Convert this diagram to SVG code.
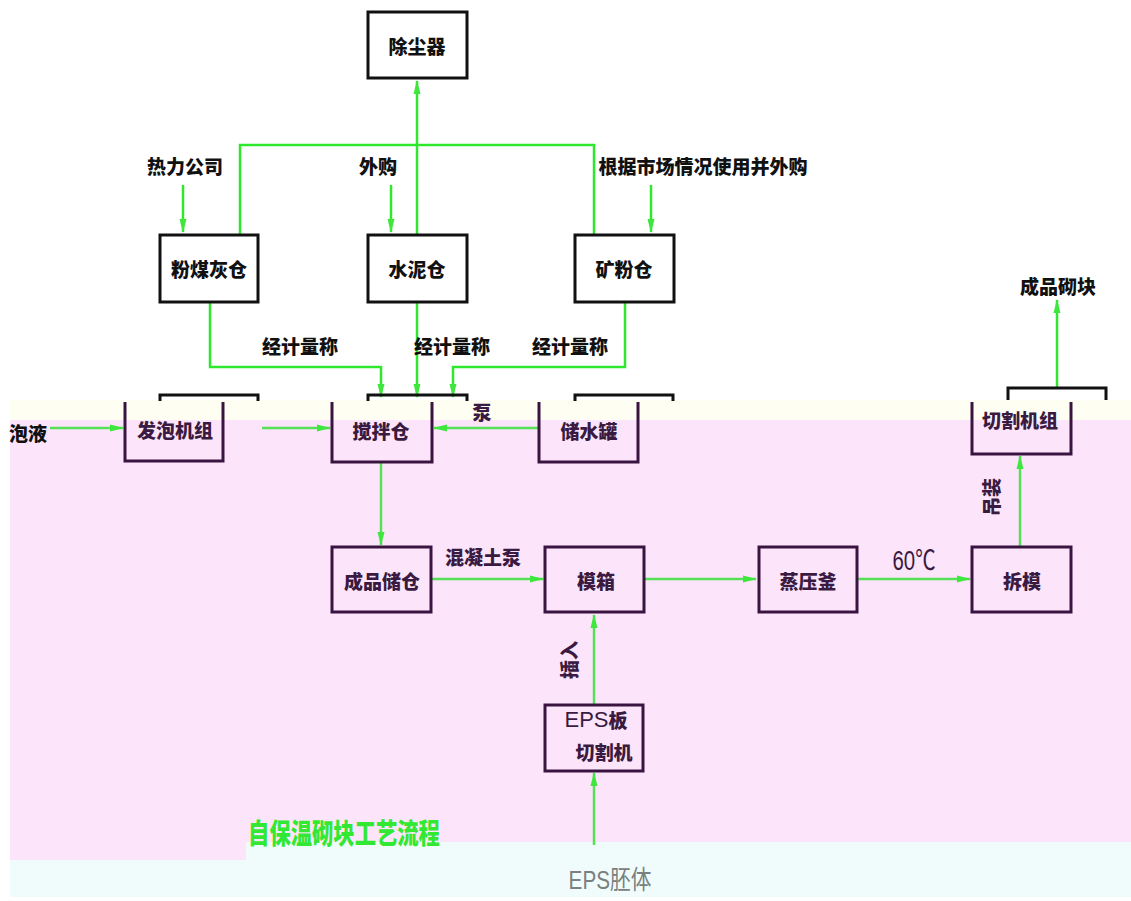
<svg xmlns="http://www.w3.org/2000/svg" width="1131" height="901" viewBox="0 0 1131 901">
<defs>
<marker id="ah" viewBox="0 0 14 8" refX="13" refY="4" markerWidth="14" markerHeight="8" markerUnits="userSpaceOnUse" orient="auto">
<path d="M0,0.5 L14,4 L0,7.5 z" fill="#3ee63e"/>
</marker>
<style>
.bk{fill:none;stroke:#111;stroke-width:3}
.pu{fill:none;stroke:#3a1440;stroke-width:3}
.ln{fill:none;stroke:#2ee82e;stroke-width:2.5}
.lp{fill:none;stroke:#55e055;stroke-width:2.5}
.t{font-family:"Noto Sans CJK SC","Liberation Sans",sans-serif;font-weight:900;font-size:19px;text-anchor:middle;dominant-baseline:central;fill:#111}
.tp{font-family:"Noto Sans CJK SC","Liberation Sans",sans-serif;font-weight:900;font-size:19px;text-anchor:middle;dominant-baseline:central;fill:#3a1a40}
.tn{font-family:"Liberation Sans","Noto Sans CJK SC",sans-serif;font-size:22px;text-anchor:middle;dominant-baseline:central;fill:#3a1a40}
</style>
</defs>
<rect width="1131" height="901" fill="#ffffff"/>
<rect x="10" y="400" width="1121" height="20" fill="#fefef2"/>
<rect x="10" y="420" width="1121" height="422" fill="#fce5fb"/>
<rect x="10" y="842" width="236" height="18" fill="#fce5fb"/>
<rect x="246" y="842" width="885" height="55" fill="#f0fcfb"/>
<rect x="10" y="860" width="236" height="37" fill="#f0fcfb"/>

<g id="connectors">
<path class="ln" d="M417,235 V81" marker-end="url(#ah)"/>
<path class="ln" d="M240,235 V145 H594 V235"/>
<path class="ln" d="M183,185 V232" marker-end="url(#ah)"/>
<path class="ln" d="M391,185 V232" marker-end="url(#ah)"/>
<path class="ln" d="M651,185 V232" marker-end="url(#ah)"/>
<path class="ln" d="M210,302 V367 H381 V397" marker-end="url(#ah)"/>
<path class="ln" d="M417,302 V397" marker-end="url(#ah)"/>
<path class="ln" d="M625,302 V367 H453 V397" marker-end="url(#ah)"/>
<path class="ln" d="M1057,387 V300" marker-end="url(#ah)"/>
<path class="lp" d="M50,428 H123" marker-end="url(#ah)"/>
<path class="lp" d="M262,428 H330" marker-end="url(#ah)"/>
<path class="lp" d="M538,428 H434" marker-end="url(#ah)"/>
<path class="lp" d="M381,462 V545" marker-end="url(#ah)"/>
<path class="lp" d="M432,579 H543" marker-end="url(#ah)"/>
<path class="lp" d="M645,579 H756" marker-end="url(#ah)"/>
<path class="lp" d="M858,579 H970" marker-end="url(#ah)"/>
<path class="lp" d="M1020,547 V456" marker-end="url(#ah)"/>
<path class="lp" d="M594,705 V615" marker-end="url(#ah)"/>
<path class="lp" d="M594,845 V773" marker-end="url(#ah)"/>
</g>

<g id="labels">
<text class="t" x="185" y="165">热力公司</text>
<text class="t" x="378" y="165">外购</text>
<text class="t" x="703" y="165">根据市场情况使用并外购</text>
<text class="t" x="300" y="345">经计量称</text>
<text class="t" x="452" y="345">经计量称</text>
<text class="t" x="570" y="345">经计量称</text>
<text class="t" x="1058" y="285">成品砌块</text>
<text class="t" x="28" y="432">泡液</text>
<text class="tp" x="482" y="411">泵</text>
<text class="tp" x="483" y="556">混凝土泵</text>
<text class="tn" transform="translate(914,560) scale(0.85,1.15)" x="0" y="0" style="font-size:24px">60℃</text>
<text class="tp" transform="translate(990,497) rotate(-90)" x="0" y="0">吊装</text>
<text class="tp" transform="translate(568,660) rotate(-90)" x="0" y="0">插入</text>
<text transform="translate(344,832) scale(0.82,1.1)" x="0" y="0" style="font-family:'Noto Sans CJK SC',sans-serif;font-weight:900;font-size:26px;text-anchor:middle;dominant-baseline:central;fill:#33e833">自保温砌块工艺流程</text>
<text transform="translate(610,880) scale(0.9,1.15)" x="0" y="0" style="font-family:'Liberation Sans','Noto Sans CJK SC',sans-serif;font-size:23px;text-anchor:middle;dominant-baseline:central;fill:#7a8080">EPS胚体</text>
</g>

<g id="n-dust"><rect class="bk" x="368" y="12" width="99" height="66"/><text class="t" x="417" y="45">除尘器</text></g>
<g id="n-flyash"><rect class="bk" x="160" y="235" width="98" height="67"/><text class="t" x="209" y="268">粉煤灰仓</text></g>
<g id="n-cement"><rect class="bk" x="368" y="235" width="99" height="67"/><text class="t" x="417" y="268">水泥仓</text></g>
<g id="n-slag"><rect class="bk" x="575" y="235" width="99" height="67"/><text class="t" x="624" y="268">矿粉仓</text></g>

<g id="n-foam"><path class="bk" d="M160,401 V395 H258 V401"/><path class="pu" d="M125,402 V461 H223 V402"/><text class="tp" x="175" y="429">发泡机组</text></g>
<g id="n-mixer"><path class="bk" d="M368,401 V395 H467 V401"/><path class="pu" d="M332,402 V462 H432 V402"/><text class="tp" x="381" y="430">搅拌仓</text></g>
<g id="n-water"><path class="bk" d="M575,401 V395 H673 V401"/><path class="pu" d="M539,402 V462 H638 V402"/><text class="tp" x="589" y="430">储水罐</text></g>
<g id="n-cutter"><path class="bk" d="M1008,400 V388 H1106 V400"/><path class="pu" d="M972,402 V454 H1071 V402"/><text class="tp" x="1020" y="419">切割机组</text></g>

<g id="n-store"><rect class="pu" x="332" y="547" width="99" height="65"/><text class="tp" x="382" y="580">成品储仓</text></g>
<g id="n-mold"><rect class="pu" x="545" y="547" width="99" height="65"/><text class="tp" x="596" y="580">模箱</text></g>
<g id="n-autoclave"><rect class="pu" x="759" y="547" width="98" height="65"/><text class="tp" x="808" y="580">蒸压釜</text></g>
<g id="n-demold"><rect class="pu" x="972" y="547" width="99" height="65"/><text class="tp" x="1022" y="580">拆模</text></g>
<g id="n-eps"><rect class="pu" x="545" y="705" width="98" height="66"/><text class="tn" x="596" y="719">EPS<tspan style="font-weight:900;font-family:'Noto Sans CJK SC',sans-serif;font-size:19px">板</tspan></text><text class="tp" x="604" y="751">切割机</text></g>
</svg>
